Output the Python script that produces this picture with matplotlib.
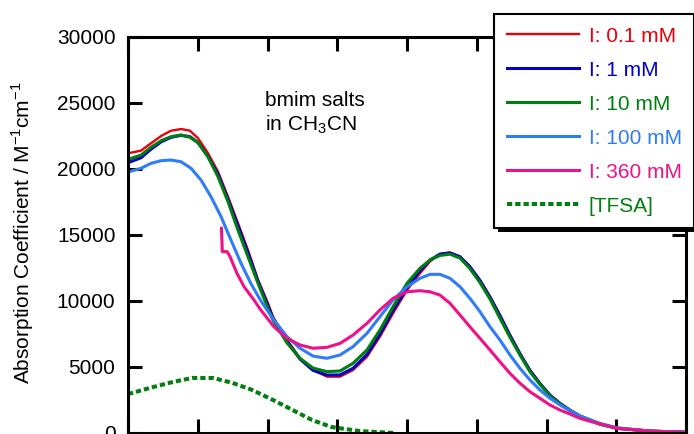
# bmim salts in CH3CN: absorption spectra at several ionic strengths (I) plus [TFSA]
import matplotlib
matplotlib.use('Agg')
import matplotlib.pyplot as plt
from matplotlib.patches import Rectangle

plt.rcParams['font.family'] = ['Liberation Sans', 'DejaVu Sans']
plt.rcParams['mathtext.fontset'] = 'custom'
plt.rcParams['mathtext.rm'] = 'Liberation Sans'

# wavelength grid (nm) shared by the low-I curves
wl = [200, 209.3, 216.5, 223.7, 230.8, 238, 244.4, 250.2, 257.3, 264.5, 271.7, 278.8,
      286, 293.2, 300.3, 303.9, 314, 323.3, 332.6, 342.6, 352, 361.3, 371.3, 380.6,
      390, 400, 409.3, 416.5, 423.6, 430.8, 438, 445.1, 452.3, 459.5, 466.6, 473.8,
      481, 488.1, 495.3, 502.5, 509.7, 516.8, 524, 531.2, 538.3, 550.5, 574.2, 600]

eps_01 = [21190, 21390, 21950, 22500, 22900, 23030, 22900, 22330, 21210, 19800, 17900,
          15910, 13860, 11600, 9850, 8810, 7050, 5660, 4770, 4270, 4270, 4770, 5780,
          7300, 9070, 10830, 12100, 13000, 13560, 13660, 13360, 12600, 11590, 10330,
          8940, 7420, 6040, 4770, 3770, 2880, 2250, 1740, 1290, 980, 680, 360, 150, 60]
eps_1 = [20480, 20850, 21500, 22050, 22400, 22550, 22450, 22000, 20950, 19600, 17700,
         15700, 13650, 11500, 9650, 8700, 6950, 5600, 4750, 4390, 4400, 4900, 5950,
         7500, 9300, 11000, 12300, 13100, 13550, 13650, 13350, 12600, 11550, 10300,
         8900, 7400, 6000, 4750, 3750, 2870, 2240, 1730, 1290, 980, 680, 360, 150, 60]
eps_10 = [20730, 21050, 21650, 22140, 22450, 22580, 22400, 22000, 20930, 19420, 17520,
          15380, 13360, 11340, 9450, 8560, 6820, 5660, 4920, 4650, 4700, 5280, 6290,
          7800, 9570, 11340, 12480, 13110, 13450, 13550, 13250, 12450, 11400, 10150,
          8700, 7250, 5900, 4650, 3680, 2820, 2200, 1700, 1270, 960, 670, 350, 140, 50]

wl_100 = [200, 209.3, 216.5, 223.7, 230.8, 238, 245.2, 252.3, 259.5, 266.7, 273.8, 281,
          288.2, 295.3, 304.6, 314, 323.3, 332.6, 342.6, 352, 361.3, 371.3, 380.6, 390,
          400, 409.3, 416.5, 423.6, 430.8, 438, 445.1, 452.3, 459.5, 466.6, 473.8, 481,
          488.1, 495.3, 502.5, 509.7, 516.8, 524, 538.3, 550.5, 574.2, 600]
eps_100 = [19770, 20050, 20430, 20630, 20680, 20550, 20050, 19170, 17900, 16390, 14620,
           12860, 11300, 10000, 8560, 7300, 6420, 5830, 5660, 5910, 6540, 7550, 8810,
           10080, 11080, 11720, 12020, 12020, 11720, 11080, 10200, 9190, 8050, 7050,
           5910, 4900, 4020, 3260, 2630, 2120, 1690, 1290, 730, 400, 150, 60]

wl_360 = [267.0, 267.6, 271.1, 273.1, 278.1, 283.2, 290.3, 294.6, 304.6, 314, 323.3,
          332.6, 342.6, 352, 361.3, 371.3, 380.6, 390, 400, 409.3, 416.5, 423.6, 430.8,
          438, 445.1, 452.3, 459.5, 466.6, 473.8, 481, 488.1, 495.3, 502.5, 509.7,
          516.8, 524, 538.3, 550.5, 574.2, 600]
eps_360 = [15510, 13740, 13740, 13360, 12100, 11080, 10080, 9400, 8050, 7170, 6670,
           6420, 6490, 6790, 7420, 8310, 9320, 10200, 10700, 10780, 10700, 10450, 9830,
           8940, 8050, 7170, 6290, 5400, 4520, 3770, 3130, 2630, 2120, 1740, 1440, 1110,
           680, 360, 130, 50]

wl_tfsa = [200, 218, 232, 246, 261, 275, 289, 304, 318, 332, 346, 366, 391]
eps_tfsa = [2950, 3480, 3860, 4170, 4170, 3790, 3260, 2500, 1740, 980, 450, 150, 0]

labels = ['I: 0.1 mM', 'I: 1 mM', 'I: 10 mM', 'I: 100 mM', 'I: 360 mM', '[TFSA]']
colors = ['#e8000a', '#0000c8', '#007f0e', '#2e7cf6', '#ee1188', '#007f0e']

fig = plt.figure(figsize=(6.94, 4.34), dpi=100)
ax = fig.add_axes([128/694, 1/434, 558/694, 396/434])

ax.plot(wl, eps_01, color=colors[0], lw=1.7, label=labels[0])
ax.plot(wl, eps_1, color=colors[1], lw=2.2, label=labels[1])
ax.plot(wl, eps_10, color=colors[2], lw=2.2, label=labels[2])
ax.plot(wl_100, eps_100, color=colors[3], lw=2.2, label=labels[3])
ax.plot(wl_360, eps_360, color=colors[4], lw=2.2, label=labels[4])
ax.plot(wl_tfsa, eps_tfsa, color=colors[5], lw=2.9, ls=(0, (1.3, 0.75)),
        dash_capstyle='butt', label=labels[5])

ax.set_xlim(200, 600)
ax.set_ylim(0, 30000)
ax.set_xticks(range(200, 601, 50))
ax.set_xticklabels([])
ax.set_yticks(range(0, 30001, 5000))
ax.tick_params(direction='in', length=10, width=2.2, top=True, right=True,
               labelsize=15, pad=9)
for s in ax.spines.values():
    s.set_linewidth(2.2)

ax.set_ylabel(r'Absorption Coefficient / M$^{\mathregular{-1}}$cm$^{\mathregular{-1}}$',
              fontsize=15)
ax.yaxis.set_label_coords(-0.165, 0.505)

ax.text(298, 24770, 'bmim salts', fontsize=15, ha='left', va='baseline')
ax.text(298, 22950, r'in CH$_{\mathregular{3}}$CN', fontsize=15, ha='left', va='baseline')

leg = ax.legend(loc='upper left', bbox_to_anchor=(494/694, 1 - 14/434),
                bbox_transform=fig.transFigure, borderaxespad=0, fontsize=15,
                frameon=True, fancybox=False, edgecolor='black', framealpha=1,
                labelcolor='linecolor', handlelength=3.5, handletextpad=0.45,
                labelspacing=0.72, borderpad=0.6)
leg.get_frame().set_linewidth(1.5)
leg.set_zorder(5)

# black drop shadow under the legend box
fig.canvas.draw()
bb = leg.get_frame().get_window_extent(fig.canvas.get_renderer())
W, H = fig.bbox.width, fig.bbox.height
fig.patches.append(Rectangle(((bb.x0 + 4) / W, (bb.y0 - 4) / H), bb.width / W, bb.height / H,
                             transform=fig.transFigure, facecolor='black',
                             edgecolor='none', zorder=4))
ax.set_zorder(5)
ax.patch.set_visible(False)

fig.savefig('out.png', dpi=100)
